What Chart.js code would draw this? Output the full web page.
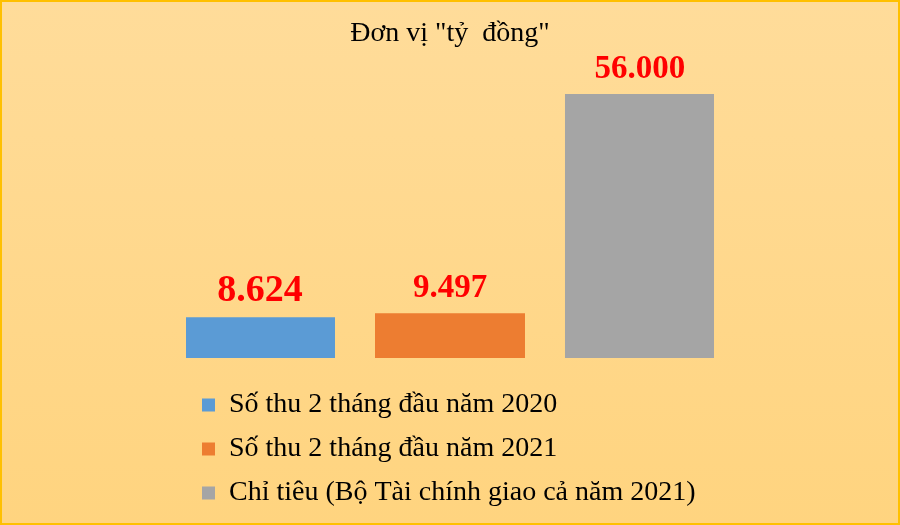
<!DOCTYPE html>
<html>
<head>
<meta charset="utf-8">
<script src="https://cdn.jsdelivr.net/npm/chart.js@4/dist/chart.umd.min.js"></script>
<style>
    html, body { margin: 0; padding: 0; }
    #wrap { position: relative; width: 900px; height: 525px; }
</style>
</head>
<body>
<div id="wrap"><canvas id="myChart"></canvas></div>
<script>
const categories = ['2021'];
const seriesLabels = [
    'Số thu 2 tháng đầu năm 2020',
    'Số thu 2 tháng đầu năm 2021',
    'Chỉ tiêu (Bộ Tài chính giao cả năm 2021)'
];
const seriesValues = [8624, 9497, 56000];
const seriesColors = ['#5B9BD5', '#ED7D31', '#A5A5A5'];
const labelFontSizes = [38, 33, 33];

const chartCanvas = document.getElementById('myChart').getContext('2d');

// 8624 -> "8.624"
function formatVN(v) {
    return String(v).replace(/\B(?=(\d{3})+(?!\d))/g, '.');
}

const backgroundPlugin = {
    id: 'background',
    beforeDraw(chart) {
        const { ctx, width, height } = chart;
        const grad = ctx.createLinearGradient(0, 0, 0, height);
        grad.addColorStop(0, '#FFDC9A');
        grad.addColorStop(1, '#FFD47F');
        ctx.save();
        ctx.fillStyle = grad;
        ctx.fillRect(0, 0, width, height);
        ctx.restore();
    },
    afterDraw(chart) {
        const { ctx, width, height } = chart;
        ctx.save();
        ctx.strokeStyle = '#FFC000';
        ctx.lineWidth = 2;
        ctx.strokeRect(1, 1, width - 2, height - 2);
        ctx.restore();
    }
};

// value labels above each bar
const valueLabels = {
    id: 'valueLabels',
    afterDatasetsDraw(chart) {
        const ctx = chart.ctx;
        ctx.save();
        ctx.fillStyle = '#FF0000';
        ctx.textAlign = 'center';
        ctx.textBaseline = 'alphabetic';
        chart.data.datasets.forEach((ds, i) => {
            const bar = chart.getDatasetMeta(i).data[0];
            ctx.font = 'bold ' + labelFontSizes[i] + 'px "Liberation Serif", "Times New Roman", serif';
            ctx.fillText(formatVN(ds.data[0]), bar.x, bar.y - 16);
        });
        ctx.restore();
    }
};

new Chart(chartCanvas, {
    type: 'bar',
    data: {
        labels: categories,
        datasets: seriesLabels.map((label, i) => ({
            label: label,
            data: [seriesValues[i]],
            backgroundColor: seriesColors[i],
            borderWidth: 0,
            categoryPercentage: 1.0795,
            barPercentage: 0.7895
        }))
    },
    options: {
        responsive: true,
        maintainAspectRatio: false,
        animation: false,
        layout: { padding: { left: 186, right: 186, top: 0, bottom: 8 } },
        scales: {
            x: {
                display: true,
                grid: { display: false },
                border: { display: false },
                ticks: { display: false },
                afterFit: (scale) => { scale.height = 17; }
            },
            y: {
                display: false,
                min: 0,
                max: 60000
            }
        },
        plugins: {
            title: {
                display: true,
                text: 'Đơn vị "tỷ  đồng"',
                color: '#000000',
                font: { family: '"Liberation Serif", "Times New Roman", serif', size: 28, weight: 'normal' },
                padding: { top: 17, bottom: 24.5 }
            },
            legend: {
                position: 'bottom',
                align: 'start',
                fullSize: false,
                labels: {
                    color: '#000000',
                    font: { family: '"Liberation Serif", "Times New Roman", serif', size: 28 },
                    boxWidth: 13,
                    boxHeight: 13,
                    padding: 16
                }
            },
            tooltip: { enabled: false }
        }
    },
    plugins: [backgroundPlugin, valueLabels]
});
</script>
</body>
</html>
